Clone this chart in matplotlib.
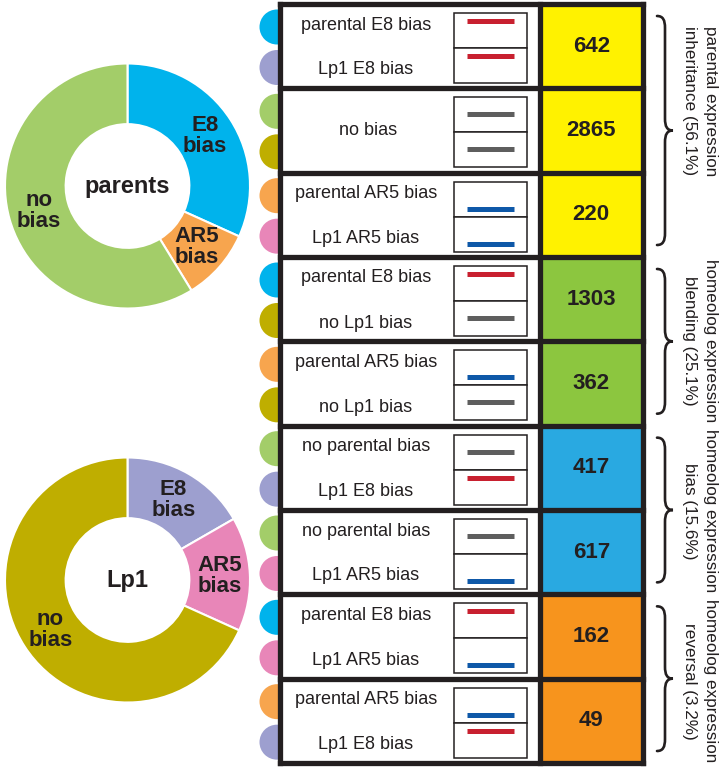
import matplotlib
matplotlib.use('Agg')
import matplotlib.pyplot as plt
from matplotlib.patches import Rectangle, Circle, PathPatch
from matplotlib.path import Path

plt.rcParams['font.family'] = ['Liberation Sans', 'DejaVu Sans']

# ---------------- data ----------------
donut_labels = ["E8\nbias", "AR5\nbias", "no\nbias"]
parents_counts = [2107, 631, 3899]
lp1_counts = [1108, 999, 4530]
parents_colors = ['#00B3EC', '#F7A54E', '#A3CD69']
lp1_colors = ['#9D9FCF', '#E886B8', '#BFAE00']
state_index = {'E8': 0, 'AR5': 1, 'none': 2}

parental_state = ['E8', 'none', 'AR5', 'E8', 'AR5', 'none', 'none', 'E8', 'AR5']
lp1_state = ['E8', 'none', 'AR5', 'none', 'none', 'E8', 'AR5', 'AR5', 'E8']
top_labels = ["parental E8 bias", None, "parental AR5 bias", "parental E8 bias",
              "parental AR5 bias", "no parental bias", "no parental bias",
              "parental E8 bias", "parental AR5 bias"]
bottom_labels = ["Lp1 E8 bias", None, "Lp1 AR5 bias", "no Lp1 bias", "no Lp1 bias",
                 "Lp1 E8 bias", "Lp1 AR5 bias", "Lp1 AR5 bias", "Lp1 E8 bias"]
merged_labels = [None, "no bias", None, None, None, None, None, None, None]
counts = [642, 2865, 220, 1303, 362, 417, 617, 162, 49]
row_category = [0, 0, 0, 1, 1, 2, 2, 3, 3]
category_names = ["parental expression\ninheritance (56.1%)",
                  "homeolog expression\nblending (25.1%)",
                  "homeolog expression\nbias (15.6%)",
                  "homeolog expression\nreversal (3.2%)"]
category_colors = ['#FFF200', '#8CC63F', '#29A9E1', '#F7941D']
bias_line_style = {'E8': ('#C8202F', 'top'), 'none': ('#5E5E5E', 'mid'), 'AR5': ('#0E58A8', 'bottom')}

# ---------------- layout ----------------
W, H = 724, 770
INK = '#231F20'
fig = plt.figure(figsize=(W / 100, H / 100), dpi=100)
ax = fig.add_axes([0, 0, 1, 1])
ax.set_xlim(0, W)
ax.set_ylim(H, 0)
ax.axis('off')

top, bottom = 4.0, 763.0
n = len(counts)
gh = (bottom - top) / n
xl, xm, xr = 279.5, 540.0, 642.5
frame_lw = 3.8

for i in range(n):
    g0 = top + i * gh
    # state circles (behind table)
    pc = parents_colors[state_index[parental_state[i]]]
    lc = lp1_colors[state_index[lp1_state[i]]]
    ax.add_patch(Circle((277, g0 + 23), 17.5, color=pc, zorder=1, lw=0))
    ax.add_patch(Circle((277, g0 + 63.5), 17.5, color=lc, zorder=1, lw=0))
    # text cell
    ax.add_patch(Rectangle((xl, g0), xm - xl, gh, facecolor='white', edgecolor='none', zorder=2))
    # number cell
    ax.add_patch(Rectangle((xm, g0), xr - xm, gh,
                           facecolor=category_colors[row_category[i]], edgecolor='none', zorder=2))
    ax.text((xm + xr) / 2, g0 + gh / 2, str(counts[i]), ha='center', va='center',
            fontsize=16, fontweight='bold', color=INK, zorder=5)
    # labels
    if merged_labels[i]:
        ax.text(368, g0 + gh / 2, merged_labels[i], ha='center', va='center',
                fontsize=13, color=INK, zorder=5)
    else:
        ax.text(366, g0 + 21, top_labels[i], ha='center', va='center',
                fontsize=13, color=INK, zorder=5)
        ax.text(366, g0 + 66, bottom_labels[i], ha='center', va='center',
                fontsize=13, color=INK, zorder=5)
    # bias boxes
    bx0, bx1 = 454, 527
    b_top = g0 + 9
    bh = 35
    for k, st in enumerate([parental_state[i], lp1_state[i]]):
        by = b_top + k * bh
        ax.add_patch(Rectangle((bx0, by), bx1 - bx0, bh, facecolor='white',
                               edgecolor=INK, lw=1.1, zorder=3))
        col, pos = bias_line_style[st]
        ly = {'top': by + 8, 'mid': by + 17, 'bottom': by + bh - 8}[pos]
        ax.plot([467, 514], [ly, ly], color=col, lw=3.6, solid_capstyle='butt', zorder=4)

# frame lines
for i in range(n + 1):
    y = top + i * gh
    ax.plot([xl, xr], [y, y], color=INK, lw=frame_lw, solid_capstyle='projecting', zorder=6)
for x in (xl, xm, xr):
    ax.plot([x, x], [top, bottom], color=INK, lw=frame_lw, solid_capstyle='projecting', zorder=6)


# braces
def brace(x0, y0, y1, w=16):
    ym = (y0 + y1) / 2
    s = x0 + w / 2
    t = x0 + w
    verts = [(x0, y0),
             (x0 + 6, y0), (s, y0 + 4), (s, y0 + 12),
             (s, ym - 12),
             (s, ym - 4), (s + 2, ym), (t, ym),
             (s + 2, ym), (s, ym + 4), (s, ym + 12),
             (s, y1 - 12),
             (s, y1 - 4), (x0 + 6, y1), (x0, y1)]
    codes = [Path.MOVETO,
             Path.CURVE4, Path.CURVE4, Path.CURVE4,
             Path.LINETO,
             Path.CURVE4, Path.CURVE4, Path.CURVE4,
             Path.CURVE4, Path.CURVE4, Path.CURVE4,
             Path.LINETO,
             Path.CURVE4, Path.CURVE4, Path.CURVE4]
    ax.add_patch(PathPatch(Path(verts, codes), facecolor='none', edgecolor=INK,
                           lw=1.9, capstyle='round', zorder=6))


cat_text_y = [101, 341, 511, 681]
for c in range(len(category_names)):
    rows = [i for i in range(n) if row_category[i] == c]
    y0 = top + rows[0] * gh + 12
    y1 = top + (rows[-1] + 1) * gh - 12
    brace(657, y0, y1)
    ax.text(700, cat_text_y[c], category_names[c], rotation=-90, ha='center', va='center',
            fontsize=12.3, color=INK, linespacing=1.55, zorder=6)


# donuts
def donut(cy, values, colors, center_label):
    r = 122.5
    cx = 127.5
    dax = fig.add_axes([(cx - r) / W, (H - cy - r) / H, 2 * r / W, 2 * r / H])
    wedges, texts = dax.pie(values, colors=colors, labels=donut_labels, startangle=90,
                            counterclock=False, radius=1, labeldistance=0.75,
                            wedgeprops=dict(width=0.495, edgecolor='white', linewidth=1.5),
                            textprops=dict(fontsize=16, fontweight='bold', color=INK,
                                           linespacing=1.0))
    for t in texts:
        t.set_ha('center')
        t.set_va('center')
    dax.text(0, 0, center_label, ha='center', va='center', fontsize=17,
             fontweight='bold', color=INK)
    dax.set_xlim(-1, 1)
    dax.set_ylim(-1, 1)
    dax.set_aspect('equal')
    dax.axis('off')


donut(186, parents_counts, parents_colors, "parents")
donut(580, lp1_counts, lp1_colors, "Lp1")

fig.savefig('out.png', dpi=100)
